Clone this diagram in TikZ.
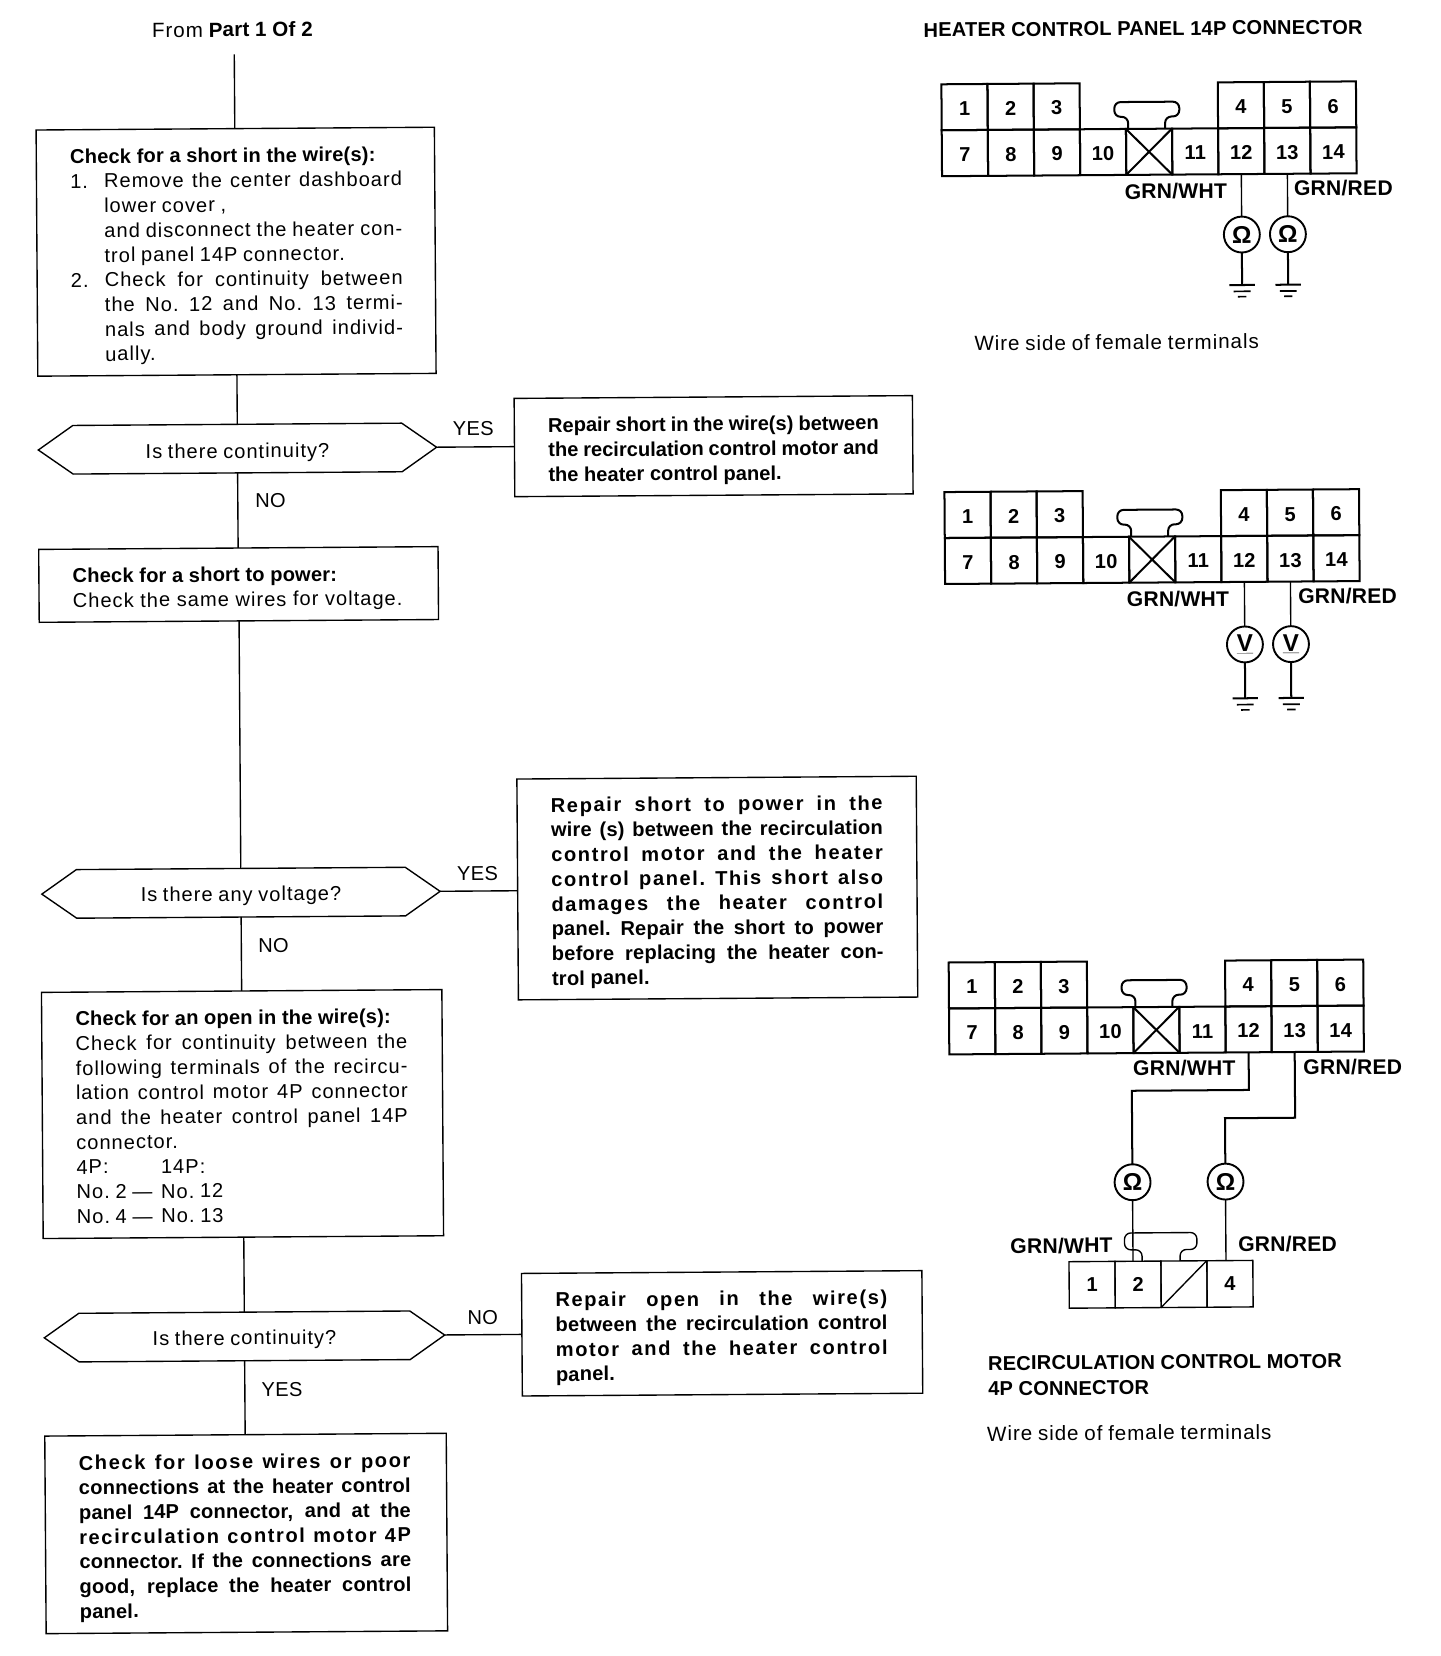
\documentclass[tikz,border=0pt]{standalone}
\usepackage{fontspec}
\setmainfont{Liberation Sans}
\newfontfamily\rg[LetterSpace=5]{Liberation Sans}
\newfontfamily\rgn[LetterSpace=2]{Liberation Sans}
\newfontfamily\rgw[LetterSpace=4.5]{Liberation Sans}
\newfontfamily\bd[LetterSpace=1]{Liberation Sans Bold}
\newfontfamily\bdn{Liberation Sans Bold}
\newfontfamily\bdw[LetterSpace=8]{Liberation Sans Bold}
\usetikzlibrary{shapes.symbols,calc}
\newcommand\bdy{\fontsize{19}{23.4}\selectfont}
\newcommand\J[2][282pt]{\makebox[#1][s]{\spaceskip=.28em plus 1fil minus .13em\relax\xspaceskip=\spaceskip #2}}
\newcommand\JW[1]{\J[314pt]{\bdw #1}}
\newcommand\st[1][22pt]{\rule{0pt}{#1}}
\tikzset{
 every node/.append style={execute at begin node={\spaceskip=.28em\relax\xspaceskip=.28em\relax}},
 flowbox/.style={draw,line width=1.3pt,inner xsep=32pt,inner ysep=0pt,outer sep=0pt,align=left,anchor=center,font=\rg\bdy},
 boldbox/.style={flowbox,font=\bd\bdy},
 hex/.style={draw,line width=1.3pt,shape=signal,signal to=east and west,signal pointer angle=70,inner sep=0pt,outer sep=0pt,minimum height=46pt,font=\rg\bdy},
 wire/.style={line width=1.3pt},
 lab/.style={font=\rgn\bdy,inner sep=0pt},
 wlab/.style={font=\rgw\fontsize{19.5}{23.4}\selectfont,inner sep=0pt},
 blab/.style={font=\bd\bdy,inner sep=0pt},
 glab/.style={font=\bd\fontsize{20}{20}\selectfont,inner sep=0pt},
 pin/.style={draw,line width=1.9pt,minimum width=43.6pt,minimum height=43.5pt,inner sep=0pt,outer sep=0pt,text height=16pt,text depth=0pt,font=\bd\fontsize{19}{20}\selectfont},
 mpin/.style={draw,line width=1.3pt,minimum width=43.5pt,minimum height=44pt,inner sep=0pt,outer sep=0pt,font=\bd\fontsize{19}{20}\selectfont},
 meter/.style={draw,circle,line width=1.8pt,minimum size=34pt,inner sep=0pt,outer sep=0pt,font=\bd\fontsize{23}{23}\selectfont},
 thickw/.style={line width=1.9pt}
}
% connector: prefix, left, top
\newcommand\conn[3]{%
 \foreach \n/\i/\j in {1/0/0,2/1/0,3/2/0,4/6/0,5/7/0,6/8/0,7/0/1,8/1/1,9/2/1,10/3/1,11/5/1,12/6/1,13/7/1,14/8/1}{%
  \node[pin,name=#1-\n] at ({#2+(\i+.5)*43.6},{#3+(\j+.5)*43.5}) {\n};}
 \node[pin,name=#1-x] at ({#2+4.5*43.6},{#3+1.5*43.5}) {};
 \draw[thickw] (#1-x.north west)--(#1-x.south east) (#1-x.north east)--(#1-x.south west);
 \draw[thickw,rounded corners=6pt] ({#2+176.5},{#3+43.5}) -- ({#2+176.5},{#3+32}) -- ({#2+163.5},{#3+32}) -- ({#2+163.5},{#3+18}) -- ({#2+225},{#3+18}) -- ({#2+225},{#3+32}) -- ({#2+211.5},{#3+32}) -- ({#2+211.5},{#3+43.5});
}
% ground symbol: coordinate name, x, y
\newcommand\gnd[3]{%
 \coordinate (#1) at (#2,#3);
 \draw[thickw] ($(#1)+(-12,0)$)--($(#1)+(12,0)$);
 \draw[line width=1.6pt] ($(#1)+(-8,6)$)--($(#1)+(8,6)$);
 \draw[line width=1.6pt] ($(#1)+(-4,11)$)--($(#1)+(4,11)$);
}
\begin{document}
\begin{tikzpicture}[x=1pt,y=-1pt]
\fill[white] (0,0) rectangle (1363,1567.45);
\useasboundingbox (0,0) rectangle (1363,1567.45);
\begin{scope}[rotate=0.4,transform shape]
% flow chart
\node[wlab] (from) at (219.8,29.5) {From {\bd Part 1 Of 2}};
\coordinate (start) at (221.4,53);
\node[flowbox,text width=313pt,minimum height=233pt] (b1) at (221.8,239.8) {%
 \st{\bd Check for a short in the wire(s):}\\
 \makebox[32pt][l]{1.}\J{Remove the center dashboard}\\
 \hspace*{32pt}lower cover ,\\
 \hspace*{32pt}\J{and disconnect the heater con-}\\
 \hspace*{32pt}trol panel 14P connector.\\
 \makebox[32pt][l]{2.}\J{Check for continuity between}\\
 \hspace*{32pt}\J{the No. 12 and No. 13 termi-}\\
 \hspace*{32pt}\J{nals and body ground individ-}\\
 \hspace*{32pt}ually.};
\node[hex,minimum width=377pt] (h1) at (221.8,426.2) {\st Is there continuity?};
\node[flowbox,text width=314pt,minimum height=69pt] (b2) at (222,554.8) {%
 \st{\bd Check for a short to power:}\\
 \J[312pt]{Check the same wires for voltage.}};
\node[hex,minimum width=377pt] (h2) at (222.2,846.6) {\st[20pt]Is there any voltage?};
\node[flowbox,text width=315pt,minimum height=233pt] (b3) at (222.2,1056.1) {%
 \st[18pt]{\bd Check for an open in the wire(s):}\\
 \J[314pt]{Check for continuity between the}\\
 \J[314pt]{following terminals of the recircu-}\\
 \J[314pt]{lation control motor 4P connector}\\
 \J[314pt]{and the heater control panel 14P}\\
 connector.\\
 \makebox[80pt][l]{4P:}14P:\\
 \makebox[80pt][l]{No. 2 —}No. 12\\
 \makebox[80pt][l]{No. 4 —}No. 13};
\node[hex,minimum width=379pt] (h3) at (222.6,1266.6) {\st[20pt]Is there continuity?};
\node[boldbox,text width=316pt,minimum height=187pt] (b4) at (222.9,1453.1) {%
 \st\JW{Check for loose wires or poor}\\
 \J[314pt]{connections at the heater control}\\
 \J[314pt]{panel 14P connector, and at the}\\
 \JW{recirculation control motor 4P}\\
 \J[314pt]{connector. If the connections are}\\
 \J[314pt]{good, replace the heater control}\\
 panel.};
\node[boldbox,font=\bdn\bdy,text width=313pt,minimum height=93pt] (r1) at (672.5,427) {%
 \st\J[313pt]{Repair short in the wire(s) between}\\
 \J[313pt]{the recirculation control motor and}\\
 the heater control panel.};
\node[boldbox,text width=314pt,minimum height=209pt] (r2) at (673.1,845.3) {%
 \st\JW{Repair short to power in the}\\
 \J[314pt]{wire (s) between the recirculation}\\
 \JW{control motor and the heater}\\
 \JW{control panel. This short also}\\
 \JW{damages the heater control}\\
 \J[314pt]{panel. Repair the short to power}\\
 \J[314pt]{before replacing the heater con-}\\
 trol panel.};
\node[boldbox,text width=315pt,minimum height=116pt] (r3) at (674.7,1266.8) {%
 \st\JW{Repair open in the wire(s)}\\
 \J[314pt]{between the recirculation control}\\
 \JW{motor and the heater control}\\
 panel.};
\draw[wire] (start) -- (start |- b1.north);
\draw[wire] (b1.south -| h1.north) -- (h1.north);
\draw[wire] (h1.south) -- (h1.south |- b2.north);
\draw[wire] (b2.south -| h2.north) -- (h2.north);
\draw[wire] (h2.south) -- (h2.south |- b3.north);
\draw[wire] (b3.south -| h3.north) -- (h3.north);
\draw[wire] (h3.south) -- (h3.south |- b4.north);
\draw[wire] (h1.east) -- (h1.east -| r1.west);
\draw[wire] (h2.east) -- (h2.east -| r2.west);
\draw[wire] (h3.east) -- (h3.east -| r3.west);
\node[lab] (y1) at (445.2,409.1) {YES};
\node[lab] (n1) at (252.7,475.8) {NO};
\node[lab] (y2) at (446.2,830.2) {YES};
\node[lab] (n2) at (252.7,896.8) {NO};
\node[lab] (n3) at (448.3,1250.2) {NO};
\node[lab] (y3) at (257.8,1316.9) {YES};
% connector 1
\node[blab] (t1) at (1081.8,34.6) {HEATER CONTROL PANEL 14P CONNECTOR};
\conn{a}{890.5}{86}
\node[glab] (a1) at (1111.7,188.8) {GRN/WHT};
\node[glab] (a2) at (1270.3,186.9) {GRN/RED};
\node[meter] (am1) at (1173.9,230.2) {Ω};
\node[meter] (am2) at (1217.5,230.2) {Ω};
\draw[wire] (a-12.south) -- (am1.north);
\draw[wire] (a-13.south) -- (am2.north);
\gnd{ag1}{1173.9}{278}
\gnd{ag2}{1217.5}{278}
\draw[thickw] (am1.south) -- (ag1);
\draw[thickw] (am2.south) -- (ag2);
\node[wlab] (w1) at (1054.7,331.4) {Wire side of female terminals};
% connector 2
\conn{b}{890.7}{472}
\node[glab] (ba1) at (1111,574.8) {GRN/WHT};
\node[glab] (ba2) at (1271.6,572.9) {GRN/RED};
\node[meter] (bm1) at (1174.1,618.2) {\underline{V}};
\node[meter] (bm2) at (1217.7,618.2) {\underline{V}};
\draw[wire] (b-12.south) -- (bm1.north);
\draw[wire] (b-13.south) -- (bm2.north);
\gnd{bg1}{1174.1}{669.2}
\gnd{bg2}{1217.7}{669.2}
\draw[thickw] (bm1.south) -- (bg1);
\draw[thickw] (bm2.south) -- (bg2);
% connector 3
\conn{c}{891.6}{917.3}
\node[glab] (ca1) at (1113.9,1018.8) {GRN/WHT};
\node[glab] (ca2) at (1273.4,1019) {GRN/RED};
\node[meter] (cm1) at (1064.2,1126.5) {Ω};
\node[meter] (cm2) at (1152.2,1126.5) {Ω};
\foreach \n/\i in {1/0,2/1,4/3}{\node[mpin,name=m-\n] at ({1003.5+(\i+.5)*43.5},1223.3) {\n};}
\node[mpin,name=m-3] at ({1003.5+2.5*43.5},1223.3) {};
\draw[wire] (m-3.south west) -- (m-3.north east);
\draw[line width=1.3pt,rounded corners=6pt] (1072.7,1201.3) -- (1072.7,1190.5) -- (1056.2,1190.5) -- (1056.2,1174.5) -- (1124.7,1174.5) -- (1124.7,1190.5) -- (1108.7,1190.5) -- (1108.7,1201.3);
\coordinate (cw1) at (1173.9,1040);
\coordinate (cw2) at (1218.6,1066.6);
\draw[thickw] (c-12.south) -- (c-12.south |- cw1) -- (cw1 -| cm1.north) -- (cm1.north);
\draw[thickw] (c-13.south) -- (c-13.south |- cw2) -- (cw2 -| cm2.north) -- (cm2.north);
\draw[wire] (cm1.south) -- (cm1.south |- m-2.north);
\draw[wire] (cm2.south) -- (cm2.south |- m-4.north);
\node[glab] (ma1) at (996.5,1186) {GRN/WHT};
\node[glab] (ma2) at (1210.5,1186) {GRN/RED};
\node[blab,anchor=west] (t2) at (926,1297) {RECIRCULATION CONTROL MOTOR};
\node[blab,anchor=west] (t3) at (926,1321) {4P CONNECTOR};
\node[wlab] (w2) at (1059.5,1363.5) {Wire side of female terminals};
\end{scope}
\end{tikzpicture}
\end{document}
